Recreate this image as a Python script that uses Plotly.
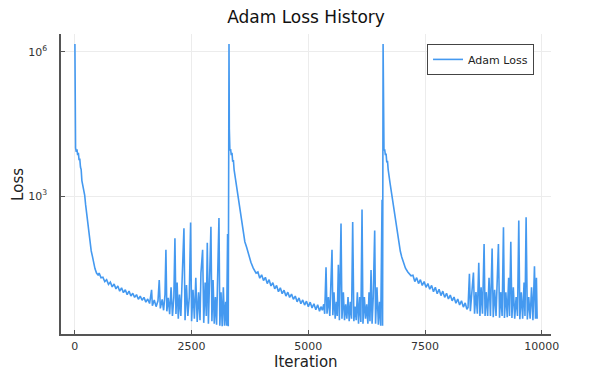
import plotly.graph_objects as go

# loss history, three Adam runs of ~3300 iterations each
iters_run1 = [1, 4, 8, 15, 30, 45, 60, 75, 90, 105, 120, 135, 150, 170, 190, 210, 230, 250, 270, 290,
              310, 330, 350, 375, 400, 430, 464, 500, 520, 560, 600, 640, 680, 720, 760, 800, 840, 880,
              920, 960, 1000, 1040, 1080, 1120, 1160, 1200, 1240, 1280, 1320, 1360, 1400, 1440, 1480,
              1520, 1560, 1600, 1643, 1660, 1700, 1740, 1780, 1807, 1830, 1870, 1900, 1930, 1950, 1970,
              2000, 2030, 2060, 2090, 2120, 2143, 2165, 2190, 2215, 2240, 2270, 2300, 2336, 2360, 2390,
              2420, 2450, 2479, 2500, 2530, 2560, 2590, 2620, 2650, 2680, 2700, 2736, 2760, 2790, 2815,
              2836, 2860, 2885, 2914, 2935, 2960, 2985, 3010, 3035, 3060, 3086, 3105, 3130, 3155, 3180,
              3205, 3230, 3250, 3271, 3285]
loss_run1 = [1.45e6, 2.0e5, 2.5e4, 1.0e4, 8300, 9300, 7100, 7900, 5600, 6000, 4000, 3550, 2100, 1700,
             1400, 1050, 660, 450, 280, 180, 132, 95, 72, 56, 40, 31, 25, 22.4, 25, 20, 20.4, 16.6,
             18.2, 14.5, 16.2, 12.9, 14.8, 11.7, 13.5, 10.5, 12.3, 9.8, 11.2, 8.9, 10.5, 8.3, 9.5, 7.8,
             8.9, 7.1, 8.3, 6.8, 7.8, 6.2, 7.2, 5.8, 11.2, 5.2, 6.9, 5.0, 6.6, 17.8, 4.6, 7.1, 4.2,
             8.9, 76, 4.0, 7.6, 3.5, 12.6, 3.2, 7.9, 132, 3.5, 15.8, 2.8, 8.9, 3.2, 25, 214, 2.6, 14,
             3.2, 7.9, 282, 2.5, 11.2, 2.8, 20, 2.4, 10, 2.6, 25, 76, 2.3, 15.8, 3.2, 107, 2.2, 31.6,
             229, 2.5, 17.8, 2.2, 7.9, 2.1, 20, 347, 2.0, 10, 1.95, 12.6, 2.0, 6.3, 2.0, 162, 1.95]

iters_run2 = [3301, 3304, 3308, 3320, 3335, 3350, 3365, 3380, 3395, 3410, 3440, 3480, 3520, 3560, 3600,
              3640, 3680, 3720, 3770, 3820, 3880, 3920, 3960, 4000, 4040, 4080, 4120, 4160, 4200, 4240,
              4280, 4320, 4360, 4400, 4440, 4480, 4520, 4560, 4600, 4640, 4680, 4720, 4760, 4800, 4840,
              4880, 4920, 4960, 5000, 5040, 5080, 5120, 5160, 5200, 5240, 5270, 5300, 5330, 5350, 5379,
              5400, 5430, 5460, 5480, 5507, 5525, 5550, 5575, 5600, 5620, 5643, 5665, 5700, 5720, 5750,
              5775, 5800, 5825, 5850, 5875, 5900, 5925, 5950, 5975, 6000, 6025, 6050, 6075, 6100, 6125,
              6150, 6170, 6200, 6225, 6250, 6275, 6300, 6320, 6343, 6365, 6390, 6421, 6440, 6470, 6500,
              6525, 6550, 6579, 6590]
loss_run2 = [1.45e6, 2.0e5, 2.5e4, 8900, 9500, 7100, 7900, 5200, 5600, 3550, 2240, 1200, 600, 316, 178,
             112, 85, 60, 42, 31.6, 25, 26.3, 19.5, 22.9, 17.4, 20.4, 15.1, 18.2, 13.5, 15.8, 11.7,
             13.8, 10.2, 12.3, 9.3, 11.0, 8.3, 10, 7.8, 9.1, 7.1, 8.3, 6.3, 7.6, 5.75, 6.9, 5.4, 6.5,
             5.0, 6.2, 4.7, 5.75, 4.3, 5.5, 4.0, 5.0, 4.2, 5.6, 3.55, 33, 3.55, 7.9, 3.2, 12.6, 76,
             3.3, 10, 2.8, 6.3, 3.2, 37, 2.6, 269, 2.8, 10, 2.6, 5.6, 2.8, 7.9, 2.5, 6.3, 2.8, 288,
             2.5, 5.0, 2.6, 10, 2.2, 7.9, 2.4, 525, 2.2, 7.9, 2.8, 5.6, 2.2, 10, 2.5, 29, 2.2, 7.9,
             191, 2.2, 12.6, 2.1, 6.3, 2.0, 832, 2.0]

iters_run3 = [6601, 6604, 6608, 6620, 6635, 6650, 6665, 6680, 6695, 6710, 6750, 6790, 6830, 6860, 6893,
              6930, 6970, 7000, 7036, 7080, 7130, 7200, 7240, 7280, 7320, 7360, 7400, 7440, 7480, 7520,
              7560, 7600, 7640, 7680, 7720, 7760, 7800, 7840, 7880, 7920, 7960, 8000, 8040, 8080, 8120,
              8160, 8200, 8240, 8280, 8320, 8360, 8395, 8420, 8450, 8470, 8500, 8536, 8560, 8590, 8620,
              8650, 8675, 8700, 8730, 8764, 8785, 8810, 8840, 8870, 8900, 8936, 8960, 8990, 9020, 9045,
              9071, 9095, 9120, 9150, 9179, 9200, 9230, 9260, 9290, 9310, 9336, 9360, 9390, 9420, 9450,
              9480, 9507, 9530, 9560, 9590, 9620, 9640, 9664, 9690, 9720, 9750, 9780, 9810, 9843, 9865,
              9885, 9900]
loss_run3 = [1.45e6, 2.0e5, 2.5e4, 8900, 9300, 7100, 7600, 5000, 5400, 3550, 1860, 1000, 560, 330, 195,
             112, 71, 54, 41, 31.6, 26.3, 21.9, 22.4, 16.6, 20, 15.1, 18.2, 13.8, 16.6, 12.6, 15.1,
             11.5, 13.8, 10.2, 12.6, 9.3, 11.5, 8.5, 10.5, 7.8, 9.5, 7.2, 8.7, 6.6, 7.9, 5.9, 7.2, 5.4,
             6.6, 4.9, 6.0, 4.4, 4.8, 24, 4.0, 7.9, 25.7, 3.55, 10, 3.55, 40.7, 3.2, 12.6, 3.55, 100,
             3.2, 10, 3.2, 20, 3.2, 81, 3.0, 11.2, 3.2, 15.8, 100, 2.95, 10, 3.2, 224, 2.9, 10, 3.0,
             20, 3.2, 112, 2.9, 12.6, 2.8, 7.9, 3.2, 309, 2.75, 10, 2.8, 15.8, 3.2, 363, 2.7, 7.9,
             2.8, 12.6, 2.6, 34.7, 2.8, 20, 2.8]

iterations = iters_run1 + iters_run2 + iters_run3
losses = loss_run1 + loss_run2 + loss_run3

x_ticks = [0, 2500, 5000, 7500, 10000]
x_tick_text = ["0", "2500", "5000", "7500", "10000"]
y_ticks = [1e3, 1e6]
y_tick_text = ["10<sup>3</sup>", "10<sup>6</sup>"]

fig = go.Figure()
fig.add_trace(go.Scatter(x=iterations, y=losses, mode="lines", name="Adam Loss",
                         line=dict(color="#4499f0", width=1.6)))

axis_style = dict(showline=True, linecolor="#555555", linewidth=1.5, ticks="inside", ticklen=4,
                  tickcolor="#555555", showgrid=True, gridcolor="#ececec", gridwidth=1,
                  zeroline=False, automargin=False,
                  tickfont=dict(family="DejaVu Sans", size=11, color="#333333"))

fig.update_xaxes(range=[-297, 10197], tickvals=x_ticks, ticktext=x_tick_text, ticklabelstandoff=1,
                 **axis_style)
fig.update_yaxes(type="log", range=[0.13, 6.37], tickvals=y_ticks, ticktext=y_tick_text,
                 ticklabelstandoff=10, **axis_style)

label_font = dict(family="DejaVu Sans", size=15, color="#222222")

# the page body adds an 8px offset, so the figure is 8px smaller than the window
fig.update_layout(
    width=586, height=362,
    margin=dict(l=53, r=43, t=26, b=36),
    plot_bgcolor="white", paper_bgcolor="white",
    title=dict(text="Adam Loss History", x=0.5, xref="paper", xanchor="center",
               y=1 - 9 / 362, yref="container", yanchor="middle",
               font=dict(family="DejaVu Sans", size=17, color="#111111")),
    showlegend=True,
    legend=dict(x=0.747, y=0.967, xanchor="left", yanchor="top", bgcolor="white",
                bordercolor="#444444", borderwidth=1, font=dict(family="DejaVu Sans", size=11,
                                                               color="#222222"),
                tracegroupgap=0, itemwidth=30),
    annotations=[
        dict(text="Iteration", xref="paper", yref="paper", x=0.5, y=-0.093, xanchor="center",
             yanchor="middle", showarrow=False, font=label_font),
        dict(text="Loss", xref="paper", yref="paper", x=-0.088, y=0.5, xanchor="center",
             yanchor="middle", textangle=-90, showarrow=False, font=label_font),
    ],
    # faint rule along the top edge of the image
    shapes=[dict(type="line", xref="paper", yref="paper", x0=-0.108, x1=1.088, y0=1.097, y1=1.097,
                 line=dict(color="#eeeeee", width=2))],
)

fig.write_html("out.html")
